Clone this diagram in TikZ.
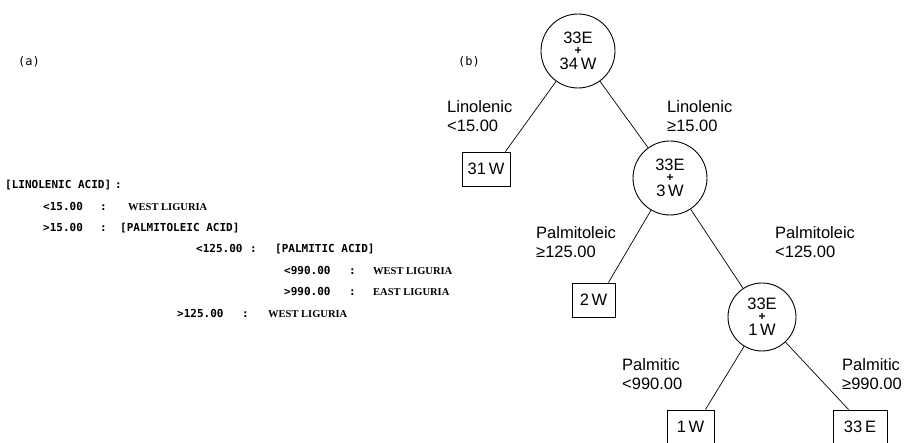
\documentclass[tikz,border=0pt]{standalone}
\usepackage{fontspec}
\setmainfont{Liberation Sans}
\newfontfamily\monofont{DejaVu Sans Mono}
\newfontfamily\seriffont{Liberation Serif}
\newcommand\splitc[2]{\vbox{\offinterlineskip\halign{\hfil##\hfil\cr #1\cr\noalign{\kern4pt}{\fontsize{12}{12}\selectfont\bfseries +}\cr\noalign{\kern3.5pt}#2\cr}}}
\tikzset{
  circ/.style={circle, draw, line width=0.9pt, minimum size=74pt, inner sep=0pt, font=\fontsize{16.5}{19.5}\selectfont},
  leaf/.style={rectangle, draw, line width=0.9pt, minimum height=34pt, inner sep=0pt, font=\fontsize{16.5}{19.5}\selectfont},
  cond/.style={anchor=north west, inner sep=0pt, align=left, font=\fontsize{16.5}{19.5}\selectfont},
  edge/.style={line width=0.7pt},
  mono/.style={anchor=base west, inner sep=0pt, font=\monofont\bfseries\fontsize{11}{13}\selectfont},
  region/.style={anchor=base west, inner sep=0pt, font=\seriffont\bfseries\fontsize{10.5}{12}\selectfont},
  panel/.style={inner sep=0pt, font=\monofont\fontsize{12}{14}\selectfont},
}
\begin{document}
\begin{tikzpicture}[x=1pt,y=-1pt]
\useasboundingbox (0,0) rectangle (914,443);
% panel labels
\node[panel] (pa) at (29,62) {(a)};
\node[panel] (pb) at (469,62) {(b)};
% (a) rule listing
\node[mono] (t01) at (5,189) {[LINOLENIC ACID]};
\node[mono] (t02) at (115,189) {:};
\node[mono] (t11) at (43,211) {<15.00};
\node[mono] (t12) at (100,211) {:};
\node[region] (t13) at (128,211) {WEST LIGURIA};
\node[mono] (t21) at (43,232) {>15.00};
\node[mono] (t22) at (100,232) {:};
\node[mono] (t23) at (120,232) {[PALMITOLEIC ACID]};
\node[mono] (t31) at (196,253) {<125.00};
\node[mono] (t32) at (250,253) {:};
\node[mono] (t33) at (275,253) {[PALMITIC ACID]};
\node[mono] (t41) at (284,275) {<990.00};
\node[mono] (t42) at (349,275) {:};
\node[region] (t43) at (373,275) {WEST LIGURIA};
\node[mono] (t51) at (284,296) {>990.00};
\node[mono] (t52) at (349,296) {:};
\node[region] (t53) at (373,296) {EAST LIGURIA};
\node[mono] (t61) at (177,318) {>125.00};
\node[mono] (t62) at (242,318) {:};
\node[region] (t63) at (268,318) {WEST LIGURIA};
% (b) tree
\node[circ] (root) at (578,51) {\splitc{33E}{34\,W}};
\node[circ] (c2) at (670,178) {\splitc{33E}{3\,W}};
\node[circ, minimum size=68pt] (c3) at (762,317) {\splitc{33E}{1\,W}};
\node[leaf, minimum width=48pt] (b31) at (486,169) {31\,W};
\node[leaf, minimum width=43pt] (b2) at (593.5,300) {2\,W};
\node[leaf, minimum width=47pt] (b1) at (690.5,427) {1\,W};
\node[leaf, minimum width=54pt] (b33) at (860,427) {33\,E};
\draw[edge] (root) -- ([xshift=-5pt]b31.north east);
\draw[edge] (root) -- (c2);
\draw[edge] (c2) -- ([xshift=-7pt]b2.north east);
\draw[edge] (c2) -- (c3);
\draw[edge] (c3) -- ([xshift=-9pt]b1.north east);
\draw[edge] (c3) -- ([xshift=16pt]b33.north west);
\node[cond] (l1) at (447,100) {Linolenic\\<15.00};
\node[cond] (l2) at (667,100) {Linolenic\\≥15.00};
\node[cond] (l3) at (536,226) {Palmitoleic\\≥125.00};
\node[cond] (l4) at (775,226) {Palmitoleic\\<125.00};
\node[cond] (l5) at (622,358) {Palmitic\\<990.00};
\node[cond] (l6) at (842,358) {Palmitic\\≥990.00};
\end{tikzpicture}
\end{document}
